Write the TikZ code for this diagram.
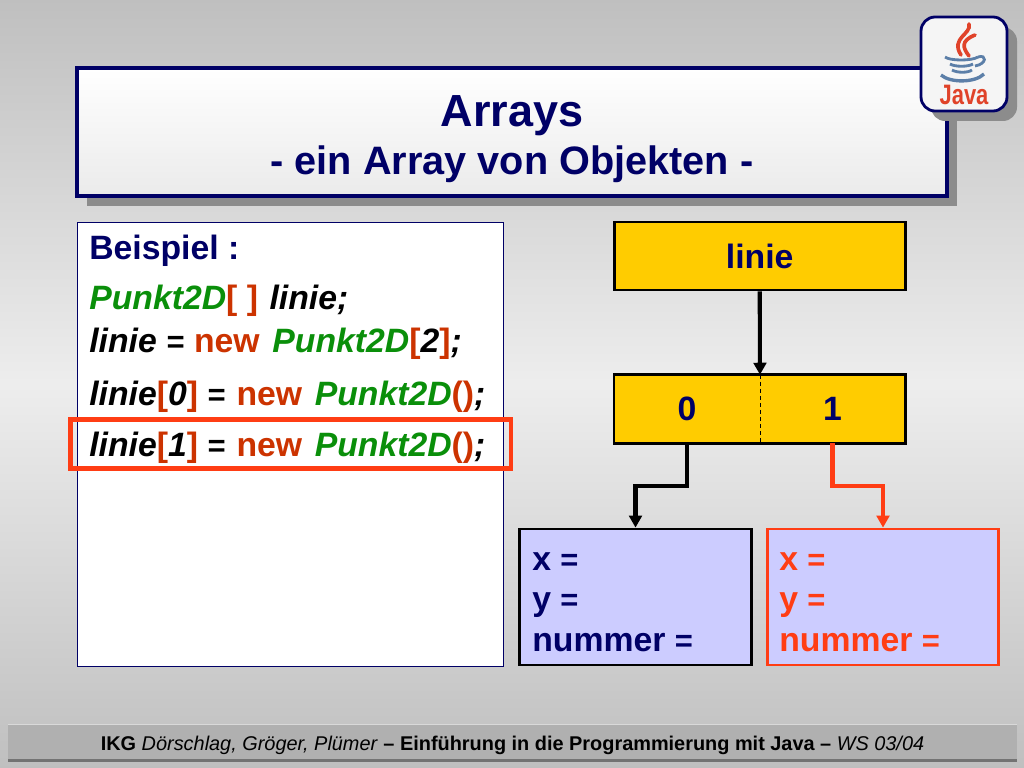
\documentclass[tikz,border=0pt]{standalone}
\usepackage{fontspec}
\setmainfont{Liberation Sans}
\usetikzlibrary{arrows.meta,backgrounds}

\definecolor{marine}{HTML}{000066}
\definecolor{gruen}{HTML}{0A8F0A}
\definecolor{rotbraun}{HTML}{CC3300}
\definecolor{signal}{HTML}{FF3D14}
\definecolor{gelb}{HTML}{FFCC00}
\definecolor{lila}{HTML}{CCCCFF}
\definecolor{schatten}{HTML}{8C8C8C}
\definecolor{javarot}{HTML}{E0432A}
\definecolor{javablau}{HTML}{5C7FA8}

\newcommand{\schrift}[1]{\fontsize{#1}{#1}\selectfont}
\newcommand{\gr}[1]{\textcolor{gruen}{#1}}
\newcommand{\ro}[1]{\textcolor{rotbraun}{#1}}
\newcommand{\gl}{{\schrift{22}\bfseries\itshape =}}
\newcommand{\glf}{{\schrift{22}\bfseries =}}

\tikzset{
    zeile/.style={anchor=base west, inner sep=0pt, font=\schrift{24}\bfseries\itshape},
    titel/.style={anchor=base, inner sep=0pt, text=marine, font=\schrift{32}\bfseries},
    zelle/.style={minimum width=103.4pt, minimum height=48.4pt, inner sep=0pt, fill=gelb,
        text=marine, font=\schrift{24}\bfseries},
    objekt/.style={minimum width=164.5pt, minimum height=96.7pt, inner sep=0pt, fill=lila,
        line width=2pt},
    feldtext/.style={anchor=base west, inner sep=0pt, font=\schrift{24}\bfseries},
    pfeil/.style={line width=2.9pt, -{Triangle[length=8.5pt,width=9pt]}},
}

\begin{document}
\begin{tikzpicture}[x=0.025cm,y=-0.025cm]
    \useasboundingbox (0,0) rectangle (1024,768);
    % hintergrund
    \shade[top color=black!25, bottom color=black!25, middle color=black!7]
        (0,0) rectangle (1024,768);

    % titel
    \fill[schatten] (87,78) rectangle (957,206);
    \shade[top color=white, bottom color=black!8, draw=marine, line width=2.2pt]
        (77,68) rectangle (947,196);
    \node[titel] (arrays) at (512,127) {Arrays};
    \node[titel, font=\schrift{28.2}\bfseries] (untertitel) at (512,175) {- ein Array von Objekten -};

    % logo
    \fill[schatten, rounded corners=10pt] (931,27) rectangle (1017,121);
    \fill[white!96!black, draw=marine, line width=2pt, rounded corners=10pt]
        (921,17) rectangle (1007,111);
    \begin{scope}[javarot, line width=2.6pt, line cap=round]
        \draw (969,24) .. controls (972,34) and (950,38) .. (961,55);
        \draw (975,35) .. controls (960,41) and (963,48) .. (969,56);
    \end{scope}
    \begin{scope}[javablau, line width=2pt]
        \draw (945,57) .. controls (950,61) and (972,61) .. (978,57);
        \draw (950,64) .. controls (955,67) and (968,67) .. (973,64);
        \draw (952,70) .. controls (957,73) and (968,73) .. (972,70);
        \draw (978,57) .. controls (987,54) and (987,64) .. (975,66);
        \draw[line width=2.4pt] (941,75) .. controls (950,83) and (975,83) .. (984,74);
    \end{scope}
    \node[anchor=base, inner sep=0pt, text=javarot, xscale=0.78, transform shape] (java) at (964,105)
        {\schrift{20}\bfseries Java};

    % beispiel
    \node[draw=marine, fill=white, line width=0.7pt, minimum width=303pt, minimum height=316pt,
        inner sep=0pt, anchor=north west] (code) at (77,222) {};
    \node[anchor=base west, inner sep=0pt, text=marine, font=\schrift{24}\bfseries]
        (beispiel) at (89,259) {Beispiel :};
    \node[zeile] (zeile1) at (89,309) {\gr{Punkt2D}\ro{\textup{[ ]}}\hspace{1.5pt} linie;};
    \node[zeile] (zeile2) at (89,352)
        {linie \gl\hspace{7pt}\ro{\textup{new}}\hspace{9pt}\gr{Punkt2D}\ro{\textup{[}}2\ro{\textup{]}};};
    \node[zeile] (zeile3) at (89,405)
        {linie\ro{\textup{[}}0\ro{\textup{]}}\hspace{6.5pt}\gl\hspace{8pt}\ro{\textup{new}}\hspace{9pt}\gr{Punkt2D}\ro{\textup{()}};};
    \node[zeile] (zeile4) at (89,456)
        {linie\ro{\textup{[}}1\ro{\textup{]}}\hspace{6.5pt}\gl\hspace{8pt}\ro{\textup{new}}\hspace{9pt}\gr{Punkt2D}\ro{\textup{()}};};
    \node[draw=signal, line width=3.2pt, minimum width=313.6pt, minimum height=35pt,
        inner sep=0pt, anchor=north west] (rahmen) at (68,417) {};

    % felder
    \node[zelle, draw=black, line width=2pt, minimum width=206.8pt] (linie) at (759.7,256) {linie};
    \node[zelle] (feld0) at (687,409) {\raisebox{-1.4pt}{0}};
    \node[zelle] (feld1) at (832.5,409) {\raisebox{-1.4pt}{1}};
    \draw[line width=2pt] (feld0.north west) rectangle (feld1.south east);
    \draw[densely dashed, line width=0.5pt] (feld0.north east) -- (feld0.south east);
    \draw[pfeil] (linie.south) -- (feld0.north east);

    % objekte
    \coordinate (knick) at (0,486);
    \node[objekt, draw=black] (obj0) at (635.5,597) {};
    \node[objekt, draw=signal] (obj1) at (883,597) {};
    \draw[pfeil] (feld0.south) -- (feld0.south |- knick) -| (obj0.north);
    \draw[pfeil, signal] (feld1.south) -- (feld1.south |- knick) -| (obj1.north);
    \foreach \n/\farbe/\xpos in {a/marine/532, b/signal/779} {
        \node[feldtext, text=\farbe] (x\n) at (\xpos,570) {x \glf};
        \node[feldtext, text=\farbe] (y\n) at (\xpos,610) {y \glf};
        \node[feldtext, text=\farbe] (nummer\n) at (\xpos,651) {nummer \glf};
    }

    % fusszeile
    \fill[black!31] (8,724) rectangle (1017,760);
    \draw[white!85!black, line width=1pt] (8,724.5) -- (1017,724.5);
    \draw[black!55, line width=2pt] (8,760.5) -- (1017,760.5);
    \node[anchor=base, inner sep=0pt, font=\schrift{14.15}] (fuss) at (512.5,750)
        {\textbf{IKG} \textit{Dörschlag, Gröger, Plümer} \textbf{– Einführung in die Programmierung mit Java –} \textit{WS 03/04}};
\end{tikzpicture}
\end{document}
